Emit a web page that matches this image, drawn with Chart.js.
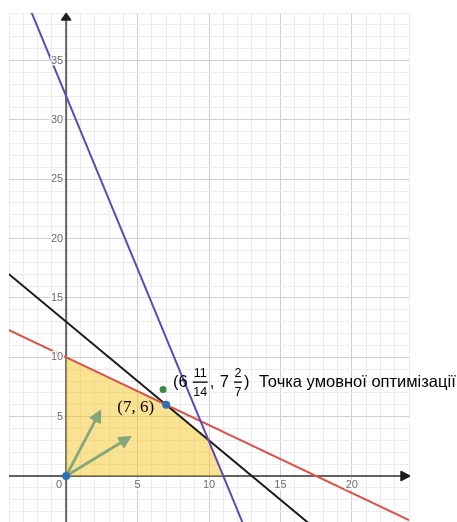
<!DOCTYPE html>
<html><head><meta charset="utf-8">
<script src="https://cdn.jsdelivr.net/npm/chart.js@4/dist/chart.umd.min.js"></script>
<style>html,body{margin:0;padding:0;background:#fff}#wrap{width:457px;height:522px;position:relative}</style>
</head><body><div id="wrap"><canvas id="c"></canvas></div>
<script>
// ---- data ----
const xRange = [-4, 24];
const yRange = [-3.875, 39];
const xTickLabels = [5, 10, 15, 20];
const yTickLabels = [5, 10, 15, 20, 25, 30, 35];
const originLabel = '0';
// constraint lines (two points on each)
const redLineX = [-7, 28];        const redLineY = [14, -6];     // 4x + 7y = 70
const blackLineX = [-5, 27];      const blackLineY = [18, -14];  // x + y = 13
const purpleLineX = [-2.75, 13.75]; const purpleLineY = [40, -8]; // through (0,32),(11,0)
// feasible region
const regionX = [0, 0, 7, 9.95, 11, 0];
const regionY = [0, 10, 6, 3.05, 0, 0];
// vectors from the origin
const arrowEndX = [2.4, 4.5];
const arrowEndY = [5.5, 3.3];
// points
const bluePointsX = [0, 7];  const bluePointsY = [0, 6];
const greenPointX = [6.786]; const greenPointY = [7.286];
const blueLabel = '(7, 6)';
const greenLabelParts = ['(6', ['11', '14'], ',', ' 7', ['2', '7'], ')', ' Точка умовної оптимізації'];

const zip = (xs, ys) => xs.map((v, i) => ({x: v, y: ys[i]}));

function gridColor(v){
  if (Math.abs(v % 5) < 1e-9) return '#cfcfcf';
  return '#ececec';
}

function drawArrow(ctx, x1, y1, x2, y2, color){
  const ang = Math.atan2(y2 - y1, x2 - x1);
  const L = 11, W = 5.5;
  const bx = x2 - L * Math.cos(ang), by = y2 - L * Math.sin(ang);
  ctx.strokeStyle = color; ctx.lineWidth = 2.8; ctx.lineCap = 'round';
  ctx.beginPath(); ctx.moveTo(x1, y1); ctx.lineTo(bx, by); ctx.stroke();
  ctx.fillStyle = color; ctx.lineJoin = 'round'; ctx.lineWidth = 1.5;
  ctx.beginPath();
  ctx.moveTo(x2, y2);
  ctx.lineTo(bx - W * Math.sin(ang), by + W * Math.cos(ang));
  ctx.lineTo(bx + W * Math.sin(ang), by - W * Math.cos(ang));
  ctx.closePath(); ctx.fill(); ctx.stroke();
}

function haloText(ctx, t, x, y){
  ctx.lineWidth = 3; ctx.strokeStyle = 'rgba(255,255,255,0.9)';
  ctx.strokeText(t, x, y); ctx.fillText(t, x, y);
}

const overlay = {
  id: 'overlay',
  beforeDatasetsDraw(chart){
    const {ctx, chartArea: a, scales: {x, y}} = chart;
    const x0 = x.getPixelForValue(0), y0 = y.getPixelForValue(0);
    ctx.save();
    ctx.strokeStyle = '#626262'; ctx.lineWidth = 2;
    ctx.beginPath(); ctx.moveTo(x0, a.bottom); ctx.lineTo(x0, a.top + 4); ctx.stroke();
    ctx.beginPath(); ctx.moveTo(a.left, y0); ctx.lineTo(a.right - 4, y0); ctx.stroke();
    ctx.fillStyle = '#1e1e1e'; ctx.strokeStyle = '#1e1e1e'; ctx.lineJoin = 'round'; ctx.lineWidth = 1.5;
    ctx.beginPath(); ctx.moveTo(x0, a.top + 0.5); ctx.lineTo(x0 - 4.5, a.top + 7); ctx.lineTo(x0 + 4.5, a.top + 7); ctx.closePath(); ctx.fill(); ctx.stroke();
    ctx.beginPath(); ctx.moveTo(a.right + 0.5, y0); ctx.lineTo(a.right - 8, y0 - 4.5); ctx.lineTo(a.right - 8, y0 + 4.5); ctx.closePath(); ctx.fill(); ctx.stroke();
    ctx.restore();
  },
  afterDatasetDraw(chart, args){
    if (args.index !== 0) return;
    const {ctx, scales: {x, y}} = chart;
    const x0 = x.getPixelForValue(0), y0 = y.getPixelForValue(0);
    ctx.save();
    arrowEndX.forEach((v, i) => drawArrow(ctx, x0, y0, x.getPixelForValue(v), y.getPixelForValue(arrowEndY[i]), '#86a67b'));
    ctx.restore();
  },
  afterDatasetsDraw(chart){
    const {ctx, scales: {x, y}} = chart;
    const x0 = x.getPixelForValue(0), y0 = y.getPixelForValue(0);
    ctx.save();
    ctx.font = '11px "Liberation Sans", Arial, sans-serif';
    ctx.fillStyle = '#6a6a6a';
    ctx.textAlign = 'center'; ctx.textBaseline = 'middle';
    xTickLabels.forEach(v => haloText(ctx, String(v), x.getPixelForValue(v), y0 + 8.5));
    haloText(ctx, originLabel, x0 - 7, y0 + 8.5);
    ctx.textAlign = 'right';
    yTickLabels.forEach(v => haloText(ctx, String(v), x0 - 3, y.getPixelForValue(v)));

    // blue point label
    const bx = x.getPixelForValue(bluePointsX[1]), by = y.getPixelForValue(bluePointsY[1]);
    ctx.fillStyle = '#000';
    ctx.font = '17px "Liberation Serif", "DejaVu Serif", serif';
    ctx.textAlign = 'right'; ctx.textBaseline = 'middle';
    ctx.fillText(blueLabel, bx - 12, by + 3);

    // green point label
    const gx = x.getPixelForValue(greenPointX[0]), gy = y.getPixelForValue(greenPointY[0]);
    const mainFont = '16.5px "Liberation Sans", Arial, sans-serif';
    const fracFont = '12.5px "Liberation Sans", Arial, sans-serif';
    let cx = gx + 10; const cy = gy - 7;
    ctx.textAlign = 'left'; ctx.textBaseline = 'middle';
    greenLabelParts.forEach(p => {
      if (Array.isArray(p)) {
        ctx.font = fracFont;
        const w = Math.max(ctx.measureText(p[0]).width, ctx.measureText(p[1]).width) + 1;
        const mid = cx + 4 + w / 2;
        ctx.textAlign = 'center';
        ctx.fillText(p[0], mid, cy - 8.5);
        ctx.fillText(p[1], mid, cy + 10.5);
        ctx.fillRect(cx + 4, cy - 1, w, 1.3);
        ctx.textAlign = 'left';
        cx += w + 6;
      } else {
        ctx.font = mainFont;
        if (p.startsWith(' Т')) cx += 4;
        ctx.fillText(p, cx, cy);
        cx += ctx.measureText(p).width + 1;
      }
    });
    ctx.restore();
  }
};

new Chart(document.getElementById('c'), {
  type: 'scatter',
  data: {
    datasets: [
      { label: 'region', data: zip(regionX, regionY), showLine: true, fill: 'shape',
        backgroundColor: 'rgba(246,198,40,0.5)', borderWidth: 0, pointRadius: 0, order: 10 },
      { label: 'red', data: zip(redLineX, redLineY), showLine: true, borderColor: '#d9534e', borderWidth: 2, pointRadius: 0, order: 6 },
      { label: 'black', data: zip(blackLineX, blackLineY), showLine: true, borderColor: '#1a1a1a', borderWidth: 2, pointRadius: 0, order: 7 },
      { label: 'purple', data: zip(purpleLineX, purpleLineY), showLine: true, borderColor: '#6547b0', borderWidth: 2, pointRadius: 0, order: 5 },
      { label: 'blue', data: zip(bluePointsX, bluePointsY), pointRadius: 4, backgroundColor: '#2d70b3', borderWidth: 0, order: 1 },
      { label: 'green', data: zip(greenPointX, greenPointY), pointRadius: 3.5, backgroundColor: '#388c46', borderWidth: 0, order: 1 }
    ]
  },
  options: {
    responsive: true, maintainAspectRatio: false, animation: false,
    layout: { autoPadding: false, padding: { left: 9, top: 13, right: 48, bottom: 0 } },
    plugins: { legend: { display: false }, tooltip: { enabled: false } },
    scales: {
      x: { type: 'linear', min: xRange[0], max: xRange[1],
           afterFit: s => { s.height = 0; s.paddingLeft = 0; s.paddingRight = 0; },
           ticks: { display: false, stepSize: 1, includeBounds: false, padding: 0 },
           grid: { drawTicks: false, color: c => gridColor(c.tick.value), lineWidth: 1 },
           border: { display: false } },
      y: { type: 'linear', min: yRange[0], max: yRange[1],
           afterFit: s => { s.width = 0; s.paddingTop = 0; s.paddingBottom = 0; },
           ticks: { display: false, stepSize: 1, includeBounds: false, padding: 0 },
           grid: { drawTicks: false, color: c => gridColor(c.tick.value), lineWidth: 1 },
           border: { display: false } }
    }
  },
  plugins: [overlay]
});
</script></body></html>
